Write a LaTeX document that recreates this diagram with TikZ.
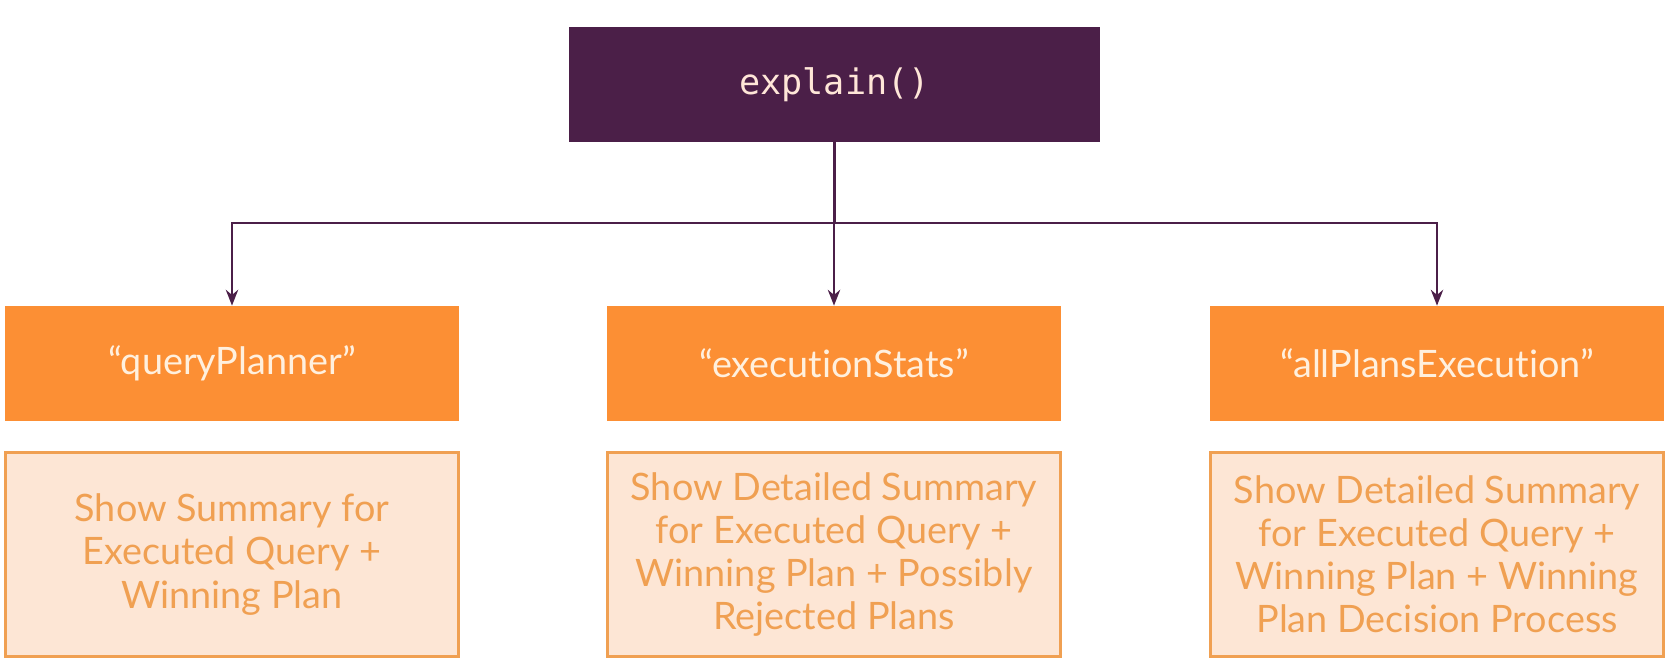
\documentclass[tikz,border=0pt]{standalone}
\usepackage{fontspec}
\setmainfont{Lato}[Ligatures=NoCommon]
\setmonofont{DejaVu Sans Mono}
\definecolor{explPurple}{RGB}{75,31,72}
\definecolor{explOrange}{RGB}{252,143,52}
\definecolor{explPeach}{RGB}{253,230,213}
\definecolor{explText}{RGB}{240,160,82}
\definecolor{explCream}{RGB}{255,240,222}
\usetikzlibrary{arrows.meta,positioning}

\begin{document}
\begin{tikzpicture}[
    root/.style={rectangle, fill=explPurple, text=explCream!80!pink,
                 minimum width=10.62cm, minimum height=2.30cm,
                 font=\ttfamily\fontsize{20}{24}\selectfont},
    mode/.style={rectangle, fill=explOrange, text=explCream,
                 minimum width=9.08cm, minimum height=2.30cm,
                 font=\fontsize{21.5}{25}\selectfont},
    info/.style={rectangle, draw=explText, fill=explPeach, text=explText,
                 line width=1.2pt, minimum width=9.06cm, minimum height=4.08cm,
                 align=center, font=\fontsize{21.5}{24.5}\selectfont},
    conn/.style={-{Stealth[length=9pt,width=7pt]}, explPurple, line width=1.6pt}
  ]
  \useasboundingbox (0,0) rectangle (33.52,-13.28);
  \node[root] (expl) at (16.69,-1.69) {explain()};
  \coordinate (bus) at (16.69,-4.46);

  \node[mode] (qp) at (4.64,-7.27)  {“queryPlanner”};
  \node[mode] (es) at (16.68,-7.27) {“executionStats”};
  \node[mode] (ap) at (28.74,-7.27) {“allPlansExecution”};

  \node[info] (qpi) at (4.64,-11.09)  {Show Summary for\\Executed Query +\\Winning Plan};
  \node[info] (esi) at (16.68,-11.09) {Show Detailed Summary\\for Executed Query +\\Winning Plan + Possibly\\Rejected Plans};
  \node[info] (api) at (28.74,-11.09) {Show Detailed Summary\\for Executed Query +\\Winning Plan + Winning\\Plan Decision Process};

  \draw[conn] (expl.south) -- (bus) -| (qp.north);
  \draw[conn] (expl.south) -- (bus) -| (es.north);
  \draw[conn] (expl.south) -- (bus) -| (ap.north);
\end{tikzpicture}
\end{document}
